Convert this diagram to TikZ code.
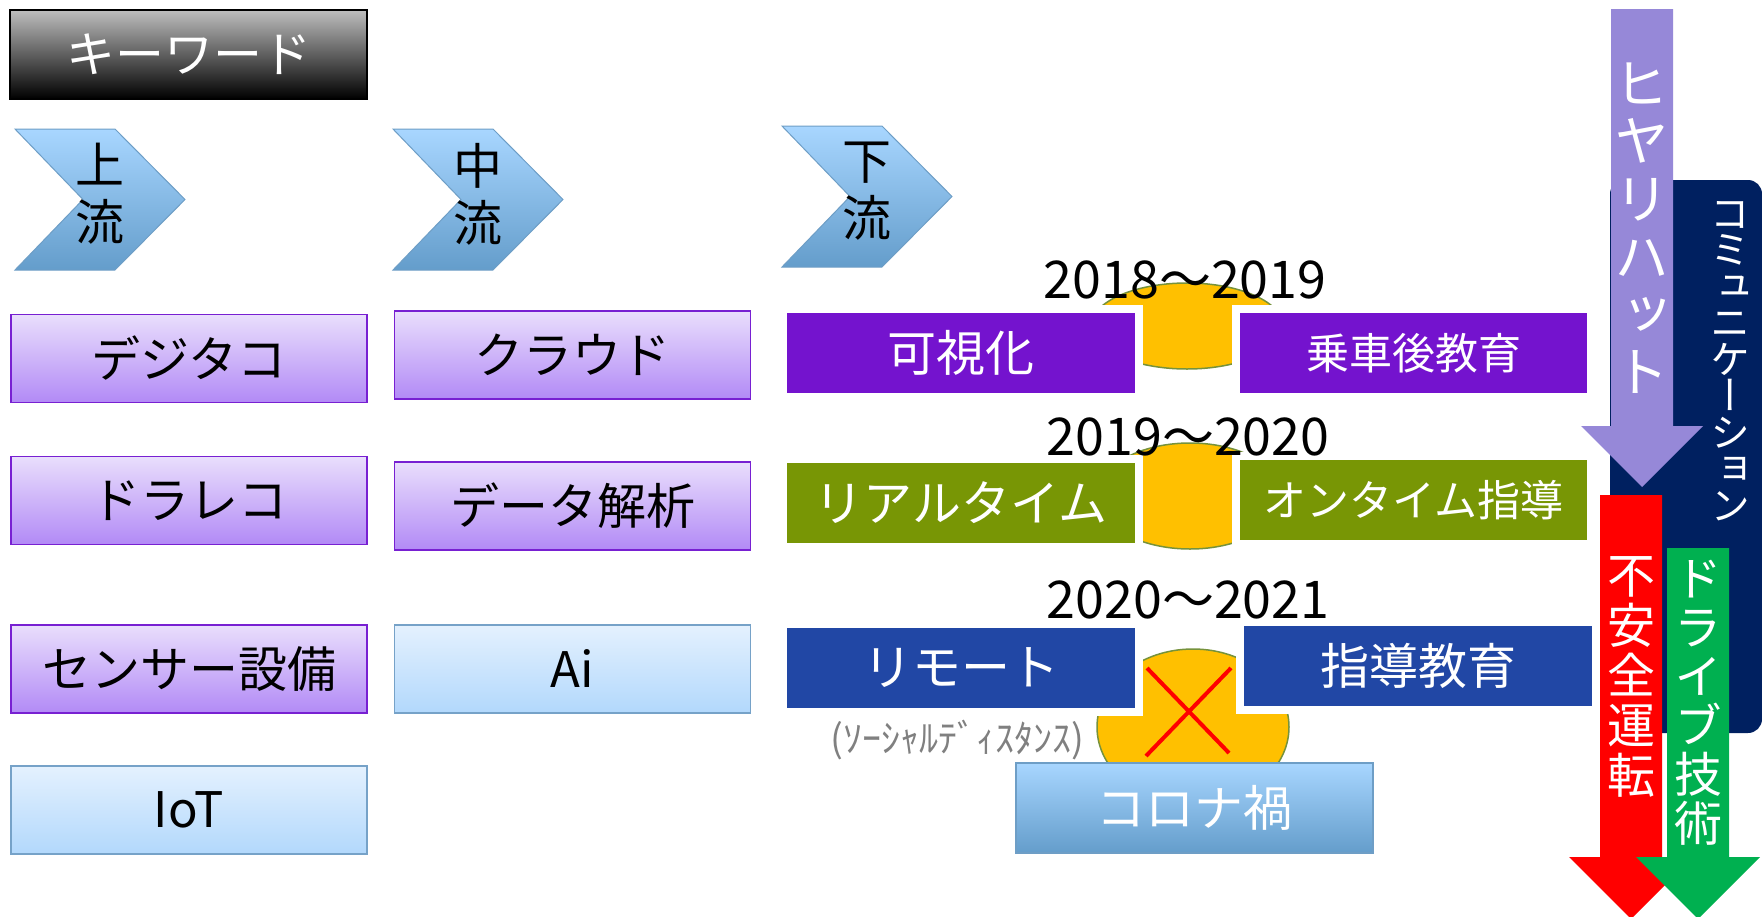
\documentclass[tikz,border=0pt]{standalone}
\usepackage{fontspec}
\setmainfont{Noto Sans CJK JP}
\newfontfamily\vjp{Noto Sans CJK JP}[RawFeature=+vert]
\usetikzlibrary{shapes.geometric}
\definecolor{kwtop}{RGB}{190,190,190}
\definecolor{kwbot}{RGB}{0,0,0}
\definecolor{chevtop}{RGB}{168,214,255}
\definecolor{chevbot}{RGB}{100,157,203}
\definecolor{chevline}{RGB}{110,158,198}
\definecolor{lptop}{RGB}{233,222,252}
\definecolor{lpbot}{RGB}{178,138,246}
\definecolor{lpline}{RGB}{120,32,210}
\definecolor{lbtop}{RGB}{228,241,254}
\definecolor{lbbot}{RGB}{178,216,252}
\definecolor{lbline}{RGB}{118,162,200}
\definecolor{vio}{RGB}{116,19,206}
\definecolor{olivebox}{RGB}{120,150,5}
\definecolor{royal}{RGB}{33,71,165}
\definecolor{ylw}{RGB}{255,192,0}
\definecolor{ylwline}{RGB}{118,146,60}
\definecolor{hiyari}{RGB}{150,136,216}
\definecolor{navyc}{RGB}{0,32,96}
\definecolor{redA}{RGB}{255,0,0}
\definecolor{greenA}{RGB}{0,176,80}
\definecolor{grayT}{RGB}{128,128,128}
\begin{document}
\begin{tikzpicture}[x=1pt,y=-1pt,
  chev/.style={draw=chevline, line width=1pt, top color=chevtop, bottom color=chevbot},
  chevtext/.style={align=center, inner sep=0pt, font=\fontsize{49}{57}\selectfont},
  lpbox/.style={rectangle, draw=lpline, line width=1.6pt, top color=lptop, bottom color=lpbot,
     minimum width=356pt, minimum height=88pt, inner sep=0pt, font=\fontsize{49}{52}\selectfont},
  lbbox/.style={rectangle, draw=lbline, line width=1.6pt, top color=lbtop, bottom color=lbbot,
     minimum width=356pt, minimum height=88pt, inner sep=0pt, font=\fontsize{49}{52}\selectfont},
  cbox/.style={rectangle, minimum width=348pt, minimum height=80pt, inner sep=0pt, text=white,
     font=\fontsize{49}{52}\selectfont, preaction={draw=white, line width=16pt}},
  yel/.style={ellipse, fill=ylw, draw=ylwline, line width=1.5pt, inner sep=0pt},
  yeartext/.style={inner sep=0pt, font=\fontsize{52}{54}\selectfont},
  vtext/.style={align=center, inner sep=0pt, text=white},
]
\useasboundingbox (0,0) rectangle (1762,916);

% title
\node[rectangle, draw=black, line width=2pt, top color=kwtop, bottom color=kwbot,
  minimum width=357pt, minimum height=89pt, inner sep=0pt, text=white,
  font=\fontsize{49}{52}\selectfont] (kw) at (188.5,54.5) {キーワード};

% chevrons
\draw[chev] (15,129) -- (115,129) -- (185,199.5) -- (115,270) -- (15,270) -- (83,199.5) -- cycle;
\node[chevtext] (up) at (100,194) {上\\流};
\draw[chev] (393,129) -- (493,129) -- (563,199.5) -- (493,270) -- (393,270) -- (461,199.5) -- cycle;
\node[chevtext] (mid) at (478,194) {中\\流};
\draw[chev] (782,126) -- (882,126) -- (952,196.5) -- (882,267) -- (782,267) -- (850,196.5) -- cycle;
\node[chevtext] (down) at (867,191) {下\\流};

% left column
\node[lpbox] (digitaco) at (189,358.5) {デジタコ};
\node[lpbox] (dorareco) at (189,500.5) {ドラレコ};
\node[lpbox] (sensor) at (189,669) {センサー設備};
\node[lbbox] (iot) at (189,810) {IoT};
% middle column
\node[lpbox] (cloud) at (572.5,355) {クラウド};
\node[lpbox] (data) at (572.5,506) {データ解析};
\node[lbbox] (ai) at (572.5,669) {Ai};

% yellow shapes
\node[yel, minimum width=192pt, minimum height=86pt] (y1) at (1187,326) {};
\node[yel, minimum width=186pt, minimum height=106pt] (y2) at (1190,496) {};
\node[yel, minimum width=192pt, minimum height=156pt] (y3) at (1193,727) {};

% right boxes
\node[cbox, fill=vio] (kashika) at (961,353) {可視化};
\node[cbox, fill=vio, minimum width=347pt, font=\fontsize{43}{50}\selectfont] (josha) at (1413.5,353) {乗車後教育};
\node[cbox, fill=olivebox] (realtime) at (961,503) {リアルタイム};
\node[cbox, fill=olivebox, minimum width=347pt, font=\fontsize{43}{50}\selectfont] (ontime) at (1413.5,500) {オンタイム指導};
\node[cbox, fill=royal] (remote) at (961,668) {リモート};
\node[cbox, fill=royal] (shido) at (1418,666) {指導教育};
\node[rectangle, draw=chevline, line width=1.5pt, top color=chevtop, bottom color=chevbot,
  minimum width=357pt, minimum height=90pt, inner sep=0pt, text=white,
  font=\fontsize{49}{52}\selectfont] (corona) at (1194.5,808) {コロナ禍};

% red cross
\coordinate (xa) at (1147,668);
\coordinate (xb) at (1229,753);
\coordinate (xc) at (1231,668);
\coordinate (xd) at (1146,756);
\draw[redA, line width=4pt] (xa) -- (xb);
\draw[redA, line width=4pt] (xc) -- (xd);

% years
\node[yeartext] (yr1) at (1185,280) {2018～2019};
\node[yeartext] (yr2) at (1188,437) {2019～2020};
\node[yeartext] (yr3) at (1188,600) {2020～2021};

% social distance
\node[inner sep=0pt, text=grayT, font=\fontsize{38}{40}\selectfont] (social) at (957,740) {(ｿｰｼｬﾙﾃﾞｨｽﾀﾝｽ)};

% right side
\fill[navyc, rounded corners=14pt] (1610,180) rectangle (1762,733);
\node[vtext, font=\vjp\fontsize{40}{36.5}\selectfont] (comm) at (1730,361)
  {コ\\ミ\\ュ\\ニ\\ケ\\ー\\シ\\ョ\\ン};
\fill[hiyari] (1611,9) -- (1673,9) -- (1673,426) -- (1703,426) -- (1642,487) -- (1581,426) -- (1611,426) -- cycle;
\node[vtext, font=\vjp\fontsize{55}{57.6}\selectfont] (hiyaritext) at (1642,228)
  {ヒ\\ヤ\\リ\\ハ\\ッ\\ト};
\fill[redA] (1600,495) -- (1662,495) -- (1662,857) -- (1693,857) -- (1631,919) -- (1569,857) -- (1600,857) -- cycle;
\node[vtext, font=\vjp\fontsize{48}{50}\selectfont] (fuan) at (1631,677)
  {不\\安\\全\\運\\転};
\fill[greenA] (1667,548) -- (1729,548) -- (1729,857) -- (1760,857) -- (1698,919) -- (1636,857) -- (1667,857) -- cycle;
\node[vtext, font=\vjp\fontsize{48}{49}\selectfont] (drive) at (1698,703)
  {ド\\ラ\\イ\\ブ\\技\\術};
\end{tikzpicture}
\end{document}
